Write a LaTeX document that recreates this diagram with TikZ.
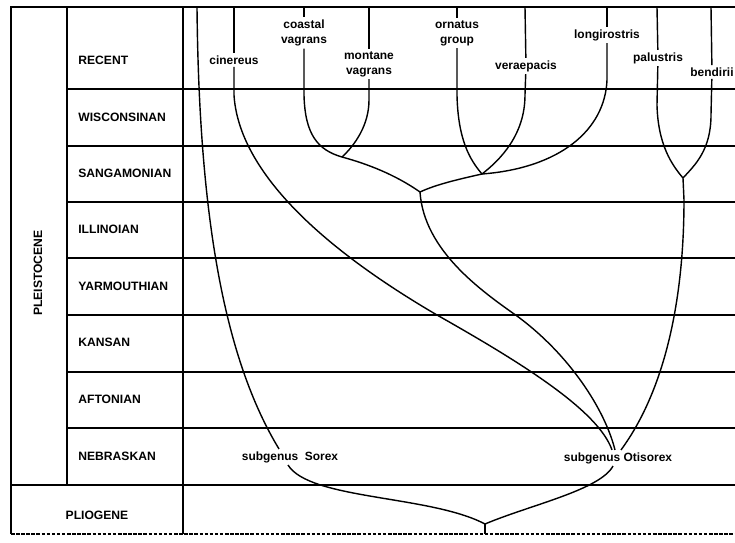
\documentclass[tikz,border=0pt]{standalone}
\usepackage{fontspec}
\setmainfont{Liberation Sans}
\usepackage{tikz}

\begin{document}
\begin{tikzpicture}[x=0.02cm,y=-0.02cm,
	rule/.style={line width=0.9pt},
	branch/.style={line width=0.8pt},
	epoch/.style={font=\fontsize{6.9}{8}\selectfont\bfseries, anchor=west, inner sep=0pt},
	taxon/.style={font=\fontsize{6.8}{8.5}\selectfont\bfseries, align=center, inner sep=1.2pt}]
	\useasboundingbox (0,0) rectangle (735,542);

	\draw[rule] (735,7) -- (11,7) -- (11,534);
	\draw[rule, dash pattern=on 2pt off 0.9pt] (11,534) -- (735,534);
	\draw[rule] (67,7) -- (67,485);
	\draw[rule] (183,7) -- (183,534);
	\draw[rule] (67,89) -- (735,89);
	\draw[rule] (67,146) -- (735,146);
	\draw[rule] (67,202) -- (735,202);
	\draw[rule] (67,258) -- (735,258);
	\draw[rule] (67,315) -- (735,315);
	\draw[rule] (67,372) -- (735,372);
	\draw[rule] (67,428) -- (735,428);
	\draw[rule] (11,485) -- (735,485);

	\node[epoch, rotate=90, anchor=center] (pleist) at (38,273) {PLEISTOCENE};
	\node[epoch] (recent) at (78,60) {RECENT};
	\node[epoch] (wisc) at (78,117) {WISCONSINAN};
	\node[epoch] (sang) at (78,173) {SANGAMONIAN};
	\node[epoch] (illi) at (78,229) {ILLINOIAN};
	\node[epoch] (yarm) at (78,286) {YARMOUTHIAN};
	\node[epoch] (kans) at (78,342) {KANSAN};
	\node[epoch] (afto) at (78,399) {AFTONIAN};
	\node[epoch] (nebr) at (78,456) {NEBRASKAN};
	\node[epoch, anchor=center] (plio) at (97,515) {PLIOGENE};

	\node[taxon] (cin) at (234,60) {cinereus};
	\node[taxon] (coast) at (304,33) {coastal\\vagrans};
	\node[taxon] (mont) at (369,64) {montane\\vagrans};
	\node[taxon] (orn) at (457,33) {ornatus\\group};
	\node[taxon] (vera) at (526,66) {veraepacis};
	\node[taxon] (longi) at (607,35) {longirostris};
	\node[taxon] (palu) at (658,58) {palustris};
	\node[taxon] (bend) at (712,72) {bendirii};
	\node[taxon] (sorex) at (290,457) {subgenus\ \ Sorex};
	\node[taxon] (otis) at (618,458) {subgenus\ Otisorex};

	\coordinate (t-sor) at (197,7);
	\coordinate (t-cin) at (234,7);
	\coordinate (t-coast) at (304,7);
	\coordinate (t-mont) at (369,7);
	\coordinate (t-orn) at (457,7);
	\coordinate (t-vera) at (525,7);
	\coordinate (t-longi) at (607,7);
	\coordinate (t-palu) at (657,7);
	\coordinate (t-bend) at (711,7);
	\coordinate (cm) at (342,157);
	\coordinate (ovl) at (482,174);
	\coordinate (ocm) at (420,192);
	\coordinate (pb) at (683,178);
	\coordinate (root) at (485,524);
	\coordinate (base) at (485,534);

	\draw[branch] (t-sor) .. controls (199,220) and (225,360) .. ([xshift=-0.22cm]sorex.north);
	\draw[branch] (t-cin) -- (cin);
	\draw[branch] (cin) -- (234,95) .. controls (238,160) and (300,235) .. (437,315)
		.. controls (520,362) and (598,410) .. ([xshift=-0.12cm]otis.north);
	\draw[branch] (t-coast) -- (coast);
	\draw[branch] (coast) -- (304,95) .. controls (305,135) and (318,150) .. (cm)
		.. controls (375,166) and (400,178) .. (ocm);
	\draw[branch] (t-mont) -- (mont);
	\draw[branch] (mont) -- (369,100) .. controls (369,125) and (355,145) .. (cm);
	\draw[branch] (t-orn) -- (orn);
	\draw[branch] (orn) -- (457,95) .. controls (458,140) and (470,160) .. (ovl);
	\draw[branch] (t-vera) -- (vera);
	\draw[branch] (vera) -- (525,95) .. controls (525,135) and (500,160) .. (ovl);
	\draw[branch] (t-longi) -- (longi);
	\draw[branch] (longi) -- (607,80) .. controls (605,130) and (560,168) .. (ovl);
	\draw[branch] (ovl) .. controls (455,180) and (435,185) .. (ocm);
	\draw[branch] (ocm) .. controls (424,250) and (480,290) .. (517,316)
		.. controls (570,355) and (605,410) .. ([xshift=-0.06cm]otis.north);
	\draw[branch] (t-palu) -- (palu);
	\draw[branch] (palu) -- (657,105) .. controls (658,145) and (672,165) .. (pb);
	\draw[branch] (t-bend) -- (bend);
	\draw[branch] (bend) -- (711,115) .. controls (711,150) and (695,165) .. (pb);
	\draw[branch] (pb) -- (684,200) .. controls (684,300) and (665,390) .. ([xshift=0.06cm]otis.north);
	\draw[branch] ([xshift=-0.1cm]otis.south) .. controls (600,490) and (530,505) .. (root);
	\draw[branch] ([xshift=-0.04cm]sorex.south) .. controls (310,500) and (430,495) .. (root);
	\draw[branch] (root) -- (base);
\end{tikzpicture}
\end{document}
